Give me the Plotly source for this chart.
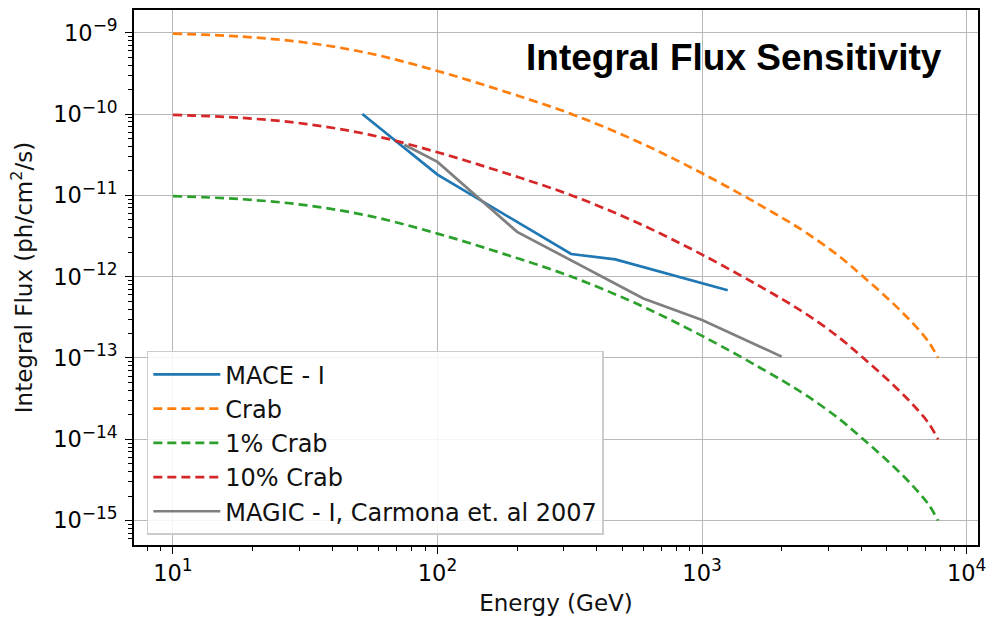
import plotly.graph_objects as go

# Crab reference spectrum (integral flux above energy E)
crab_energy = [10, 17.8, 31.6, 56.2, 100, 178, 316, 562, 1000, 1860, 2480,
               3300, 4040, 5080, 6210, 7180, 7800]
crab_flux = [9.77e-10, 9.02e-10, 7.59e-10, 5.52e-10, 3.39e-10, 1.91e-10,
             1.02e-10, 4.70e-11, 1.87e-11, 6.12e-12, 3.46e-12, 1.78e-12,
             1.02e-12, 5.25e-13, 2.75e-13, 1.58e-13, 1.0e-13]
crab_10pct_flux = [9.77e-11, 9.02e-11, 7.59e-11, 5.52e-11, 3.39e-11, 1.91e-11,
                   1.02e-11, 4.70e-12, 1.87e-12, 6.12e-13, 3.46e-13, 1.78e-13,
                   1.02e-13, 5.25e-14, 2.75e-14, 1.58e-14, 1.0e-14]
crab_1pct_flux = [9.77e-12, 9.02e-12, 7.59e-12, 5.52e-12, 3.39e-12, 1.91e-12,
                  1.02e-12, 4.70e-13, 1.87e-13, 6.12e-14, 3.46e-14, 1.78e-14,
                  1.02e-14, 5.25e-15, 2.75e-15, 1.58e-15, 1.0e-15]

# MACE - I sensitivity
mace_energy = [52, 100, 320, 470, 1250]
mace_flux = [1.0e-10, 1.8e-11, 1.9e-12, 1.63e-12, 6.8e-13]

# MAGIC - I sensitivity (Carmona et al. 2007)
magic_energy = [75, 100, 200, 320, 600, 1000, 2000]
magic_flux = [4.2e-11, 2.58e-11, 3.56e-12, 1.6e-12, 5.4e-13, 2.94e-13, 1.04e-13]

# Axis tick positions and exponent labels
x_tick_vals = [10, 100, 1000, 10000]
x_tick_exps = ["1", "2", "3", "4"]
y_tick_vals = [1e-9, 1e-10, 1e-11, 1e-12, 1e-13, 1e-14, 1e-15]
y_tick_exps = ["\u22129", "\u221210", "\u221211", "\u221212", "\u221213", "\u221214", "\u221215"]

SUP = '10<sup><span style="font-size:17px">{}</span></sup>'
x_tick_text = [SUP.format(e) for e in x_tick_exps]
y_tick_text = [SUP.format(e) for e in y_tick_exps]

BLUE, ORANGE, GREEN, RED, GRAY = "#1f77b4", "#ff7f0e", "#2ca02c", "#d62728", "#7f7f7f"
FONT = "DejaVu Sans"
LW = 2.7
DASH = "9px,5px"

fig = go.Figure()
fig.add_trace(go.Scatter(x=mace_energy, y=mace_flux, mode="lines", name="MACE - I",
                         line=dict(color=BLUE, width=LW)))
fig.add_trace(go.Scatter(x=crab_energy, y=crab_flux, mode="lines", name="Crab",
                         line=dict(color=ORANGE, width=LW, dash=DASH,
                                   shape="spline", smoothing=1.0)))
fig.add_trace(go.Scatter(x=crab_energy, y=crab_1pct_flux, mode="lines", name="1% Crab",
                         line=dict(color=GREEN, width=LW, dash=DASH,
                                   shape="spline", smoothing=1.0)))
fig.add_trace(go.Scatter(x=crab_energy, y=crab_10pct_flux, mode="lines", name="10% Crab",
                         line=dict(color=RED, width=LW, dash=DASH,
                                   shape="spline", smoothing=1.0)))
fig.add_trace(go.Scatter(x=magic_energy, y=magic_flux, mode="lines",
                         name="MAGIC - I, Carmona et. al 2007",
                         line=dict(color=GRAY, width=LW)))

axis_common = dict(
    type="log",
    showline=True,
    linecolor="black",
    linewidth=1.6,
    mirror=True,
    ticks="outside",
    ticklen=7,
    tickwidth=1.3,
    tickcolor="black",
    showgrid=True,
    gridcolor="#b8b8b8",
    gridwidth=1.4,
    zeroline=False,
    tickfont=dict(family=FONT, size=22.5, color="black"),
    minor=dict(ticks="outside", ticklen=4, tickwidth=1, tickcolor="black",
               dtick="D1", showgrid=False),
)

fig.update_xaxes(
    range=[0.853, 4.043],
    tickmode="array", tickvals=x_tick_vals, ticktext=x_tick_text,
    title=dict(text="Energy (GeV)", font=dict(family=FONT, size=23, color="#111111"),
               standoff=10),
    **axis_common,
)
fig.update_yaxes(
    range=[-15.30, -8.72],
    tickmode="array", tickvals=y_tick_vals, ticktext=y_tick_text,
    ticklabelstandoff=3,
    title=dict(text="Integral Flux (ph/cm<sup>2</sup>/s)",
               font=dict(family=FONT, size=23, color="#111111"), standoff=14),
    **axis_common,
)

fig.add_annotation(
    x=0.711, y=0.912, xref="paper", yref="paper",
    text="<b>Integral Flux Sensitivity</b>",
    showarrow=False, xanchor="center", yanchor="middle",
    font=dict(family="Liberation Sans", size=37, color="black"),
)

fig.update_layout(
    width=994, height=620,
    margin=dict(l=134, r=8, t=9, b=74),
    paper_bgcolor="white",
    plot_bgcolor="white",
    showlegend=True,
    legend=dict(
        x=0.0152, y=0.019, xanchor="left", yanchor="bottom",
        bgcolor="rgba(255,255,255,0.85)",
        bordercolor="#cccccc", borderwidth=1.5,
        font=dict(family=FONT, size=24, color="#111111"),
        itemwidth=67,
    ),
)

fig.write_html("out.html")
